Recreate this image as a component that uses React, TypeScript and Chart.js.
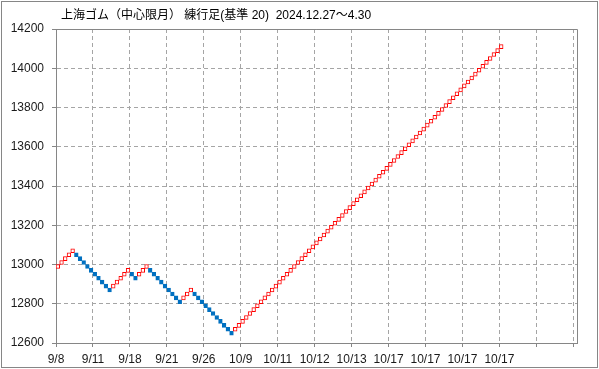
import React, { useEffect, useRef } from 'react';
import { Chart, registerables } from 'chart.js';

Chart.register(...registerables);

const titleText = '上海ゴム（中心限月） 練行足(基準 20)  2024.12.27～4.30';
const boxSize = 20;

// lower edge of each renko box, in order
const boxLows = [
  12980, 13000, 13020, 13040, 13060,
  13040, 13020, 13000, 12980, 12960, 12940, 12920, 12900, 12880, 12860,
  12880, 12900, 12920, 12940, 12960,
  12940, 12920,
  12940, 12960, 12980,
  12960, 12940, 12920, 12900, 12880, 12860, 12840, 12820, 12800,
  12820, 12840, 12860,
  12840, 12820, 12800, 12780, 12760, 12740, 12720, 12700, 12680, 12660, 12640,
  12660, 12680, 12700, 12720, 12740, 12760, 12780, 12800, 12820, 12840,
  12860, 12880, 12900, 12920, 12940, 12960, 12980, 13000, 13020, 13040,
  13060, 13080, 13100, 13120, 13140, 13160, 13180, 13200, 13220, 13240,
  13260, 13280, 13300, 13320, 13340, 13360, 13380, 13400, 13420, 13440,
  13460, 13480, 13500, 13520, 13540, 13560, 13580, 13600, 13620, 13640,
  13660, 13680, 13700, 13720, 13740, 13760, 13780, 13800, 13820, 13840,
  13860, 13880, 13900, 13920, 13940, 13960, 13980, 14000, 14020, 14040,
  14060, 14080, 14100,
];

const xTickLabels = ['9/8', '9/11', '9/18', '9/21', '9/26', '10/9', '10/11', '10/12', '10/13', '10/17', '10/17', '10/17', '10/17', '', ''];
const xTickEvery = 10;
const xMax = 141;
const yMin = 12600;
const yMax = 14200;
const yStep = 200;

const UP_BORDER = '#FF0000';
const UP_FILL = '#FFFFFF';
const DOWN = '#0070C0';
const AXIS = '#868686';
const GRID = '#A5A5A5';
const TEXT = '#1a1a1a';
const FONT = "'Liberation Sans', 'Noto Sans CJK JP', sans-serif";

const framePlugin = {
  id: 'frame',
  afterDraw(chart: any) {
    const { ctx, chartArea: a } = chart;
    ctx.save();
    ctx.strokeStyle = AXIS;
    ctx.lineWidth = 1;
    ctx.setLineDash([]);
    ctx.beginPath();
    ctx.moveTo(a.left, Math.round(a.top) + 0.5);
    ctx.lineTo(Math.round(a.right) + 0.5, Math.round(a.top) + 0.5);
    ctx.lineTo(Math.round(a.right) + 0.5, a.bottom);
    ctx.stroke();
    ctx.strokeRect(1.5, 1.5, 596, 366);
    ctx.fillStyle = '#000';
    ctx.font = `12px ${FONT}`;
    ctx.textBaseline = 'middle';
    ctx.textAlign = 'left';
    ctx.fillText(titleText, 61, 16);
    ctx.restore();
  },
};

export default function App() {
  const ref = useRef<HTMLCanvasElement>(null);
  useEffect(() => {
    document.body.style.margin = '0';
    const isUp = boxLows.map((lo, i) => i === 0 || lo > boxLows[i - 1]);
    const chart = new Chart(ref.current as HTMLCanvasElement, {
      type: 'bar',
      data: {
        datasets: [
          {
            data: boxLows.map((lo, i) => ({ x: i + 0.5, y: [lo, lo + boxSize] })) as any,
            backgroundColor: isUp.map((u) => (u ? UP_FILL : DOWN)),
            borderColor: isUp.map((u) => (u ? UP_BORDER : DOWN)),
            borderWidth: 1,
            borderSkipped: false,
            categoryPercentage: 1,
            barPercentage: 1,
            grouped: false,
          } as any,
        ],
      },
      options: {
        animation: false,
        responsive: false,
        devicePixelRatio: 1,
        layout: { padding: { top: 29, right: 22, bottom: 0, left: 0 } },
        plugins: { legend: { display: false }, title: { display: false }, tooltip: { enabled: false } },
        scales: {
          x: {
            type: 'linear',
            min: 0,
            max: xMax,
            offset: false,
            afterBuildTicks: (s: any) => {
              s.ticks = xTickLabels.map((_, i) => ({ value: i * xTickEvery }));
            },
            afterFit: (s: any) => {
              s.height = 26;
            },
            grid: {
              offset: false,
              color: GRID,
              lineWidth: 1,
              drawTicks: true,
              tickLength: 4,
              tickColor: AXIS,
            },
            border: { display: true, color: AXIS, width: 1, dash: [4, 3] },
            ticks: {
              autoSkip: false,
              maxRotation: 0,
              minRotation: 0,
              padding: 5,
              color: TEXT,
              font: { family: FONT, size: 12 },
              callback: (v: any) => {
                const idx = Math.round(Number(v) / xTickEvery);
                return xTickLabels[idx] ?? '';
              },
            },
          } as any,
          y: {
            type: 'linear',
            min: yMin,
            max: yMax,
            beginAtZero: false,
            afterFit: (s: any) => {
              s.width = 56;
            },
            grid: {
              color: GRID,
              lineWidth: 1,
              drawTicks: true,
              tickLength: 4,
              tickColor: AXIS,
            },
            border: { display: true, color: AXIS, width: 1, dash: [4, 3] },
            ticks: {
              stepSize: yStep,
              padding: 8,
              color: TEXT,
              font: { family: FONT, size: 12 },
              callback: (v: any) => String(v),
            },
          } as any,
        },
      },
      plugins: [framePlugin],
    });
    return () => chart.destroy();
  }, []);
  return (
    <div style={{ width: 599, height: 369 }}>
      <canvas ref={ref} width={599} height={369} style={{ display: 'block' }} />
    </div>
  );
}
